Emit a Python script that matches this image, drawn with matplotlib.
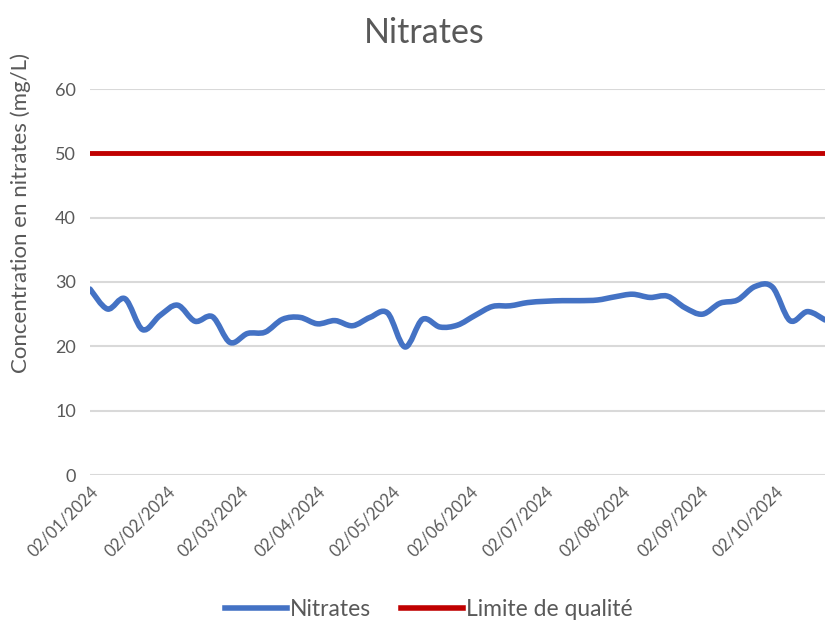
import matplotlib
matplotlib.use("Agg")
import matplotlib.pyplot as plt
import matplotlib.dates as mdates
from matplotlib.path import Path
from matplotlib.patches import PathPatch
from matplotlib.lines import Line2D
import numpy as np
import datetime as dt

plt.rcParams['font.family'] = ['Lato', 'DejaVu Sans']

# weekly samples
dates = [dt.date(2024, 1, 2) + dt.timedelta(days=7 * i) for i in range(43)]
nitrates = [28.9, 25.8, 27.4, 22.6, 24.8, 26.4, 23.9, 24.6, 20.6, 22.0,
            22.2, 24.2, 24.5, 23.5, 24.0, 23.2, 24.5, 25.2, 19.9, 24.2,
            23.0, 23.3, 24.8, 26.2, 26.3, 26.8, 27.0, 27.1, 27.1, 27.2,
            27.7, 28.1, 27.6, 27.8, 26.0, 25.0, 26.7, 27.2, 29.3, 29.2,
            24.0, 25.4, 24.1]
limite = 50
tick_dates = [dt.date(2024, m, 2) for m in range(1, 11)]

blue = "#4472C4"
red = "#C00000"
grey = "#595959"

fig = plt.figure(figsize=(8.25, 6.22), dpi=100)
ax = fig.add_axes([90 / 825, 1 - 475 / 622, 1 - 90 / 825, (475 - 89) / 622])

# smoothed line like the spreadsheet one (bezier through every point)
x = mdates.date2num(dates)
y = np.array(nitrates)
verts = [(x[0], y[0])]
codes = [Path.MOVETO]
n = len(x)
for i in range(n - 1):
    x0, y0 = (x[i - 1], y[i - 1]) if i > 0 else (x[i], y[i])
    x3, y3 = (x[i + 2], y[i + 2]) if i + 2 < n else (x[i + 1], y[i + 1])
    c1 = (x[i] + (x[i + 1] - x0) / 6, y[i] + (y[i + 1] - y0) / 6)
    c2 = (x[i + 1] - (x3 - x[i]) / 6, y[i + 1] - (y3 - y[i]) / 6)
    verts += [c1, c2, (x[i + 1], y[i + 1])]
    codes += [Path.CURVE4] * 3
ax.add_patch(PathPatch(Path(verts, codes), fill=False, edgecolor=blue,
                       lw=4, capstyle='round', joinstyle='round', zorder=3))

ax.plot(dates, [limite] * len(dates), color=red, lw=3.5, zorder=3)

ax.set_ylim(0, 60)
ax.set_yticks(range(0, 61, 10))
ax.set_xlim(dates[0], dates[-1])
ax.set_xticks(tick_dates)
ax.set_xticklabels([d.strftime("%d/%m/%Y") for d in tick_dates],
                   rotation=45, ha='right', rotation_mode='anchor')
ax.grid(axis='y', color="#D9D9D9", lw=1.5)
ax.set_axisbelow(True)
for s in ax.spines.values():
    s.set_visible(False)
ax.tick_params(axis='both', length=0, colors=grey)
ax.tick_params(axis='y', pad=10, labelsize=13)
ax.tick_params(axis='x', pad=6, labelsize=12)
ax.set_ylabel("Concentration en nitrates (mg/L)", fontsize=16, color=grey)
ax.yaxis.set_label_coords(-0.08, 0.68)

fig.suptitle("Nitrates", x=0.514, y=0.972, fontsize=24.5, color=grey)

handles = [Line2D([], [], color=blue, lw=4), Line2D([], [], color=red, lw=4)]
fig.legend(handles, ["Nitrates", "Limite de qualité"], loc='lower center',
           bbox_to_anchor=(0.52, -0.03), ncol=2, frameon=False, fontsize=16.5,
           handlelength=2.7, handletextpad=0.15, columnspacing=1.3, labelcolor=grey)

fig.savefig("out.png", dpi=100)
